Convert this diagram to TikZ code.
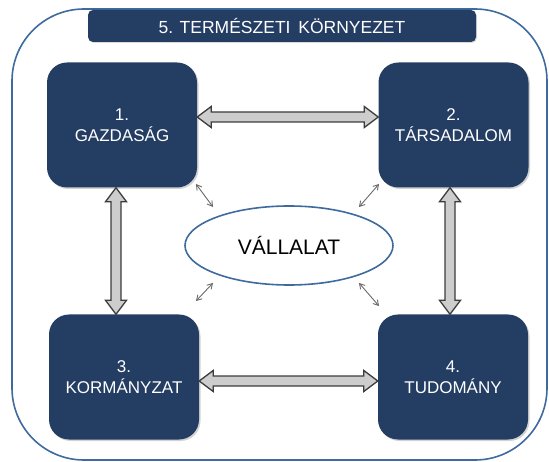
\documentclass[tikz,border=0pt]{standalone}
\usepackage{fontspec}
\setmainfont{Liberation Sans}
\usetikzlibrary{calc,shapes.geometric,shadows,arrows.meta}
\definecolor{navy}{RGB}{36,61,99}
\definecolor{frameblue}{RGB}{62,106,158}
\definecolor{arrfill}{RGB}{205,205,205}
\definecolor{arrline}{RGB}{60,60,60}
\definecolor{thinarr}{RGB}{105,105,105}
\tikzset{
  bigbox/.style={rectangle, rounded corners=20pt, fill=navy, text=white,
    minimum width=150pt, minimum height=125pt, inner sep=0pt, align=center,
    font=\fontsize{17}{21}\selectfont,
    drop shadow={opacity=0.35, shadow xshift=1.5pt, shadow yshift=-1.5pt}},
  titlebox/.style={rectangle, rounded corners=5pt, fill=navy, text=white,
    minimum width=388pt, minimum height=32pt, inner sep=0pt,
    font=\fontsize{17.5}{20}\selectfont,
    drop shadow={opacity=0.3, shadow xshift=1pt, shadow yshift=-1pt}},
  firm/.style={ellipse, draw=frameblue, line width=1.6pt, fill=white,
    minimum width=208pt, minimum height=79pt, inner sep=0pt,
    font=\fontsize{21}{24}\selectfont},
  fatarrow/.style={draw=arrline, fill=arrfill, line width=1.3pt, line join=miter},
  thinarrow/.style={draw=thinarr, line width=0.9pt, {Straight Barb[length=5pt,width=6pt]}-{Straight Barb[length=5pt,width=6pt]}}
}
\newcommand\fatarr[2]{%
  \path ($(#1)!14pt!(#2)$) coordinate (H1) ($(#2)!14pt!(#1)$) coordinate (H2);
  \draw[fatarrow] (#1) -- ($(H1)!10.5pt!90:(#2)$) -- ($(H1)!5pt!90:(#2)$)
    -- ($(H2)!5pt!-90:(#1)$) -- ($(H2)!10.5pt!-90:(#1)$) -- (#2)
    -- ($(H2)!10.5pt!90:(#1)$) -- ($(H2)!5pt!90:(#1)$)
    -- ($(H1)!5pt!-90:(#2)$) -- ($(H1)!10.5pt!-90:(#2)$) -- cycle;}
\begin{document}
\begin{tikzpicture}[x=1pt,y=-1pt]
\useasboundingbox (0,0) rectangle (549,462);
% outer frame
\draw[frameblue, line width=1.6pt, rounded corners=72pt] (12,9) rectangle (547,460);
% title
\node[titlebox] (env) at (282,26) {5. TERMÉSZETI\, KÖRNYEZET};
% boxes
\node[bigbox] (b1) at (122,125) {1.\\GAZDASÁG};
\node[bigbox] (b2) at (453.5,125) {2.\\TÁRSADALOM};
\node[bigbox] (b3) at (124,377) {3.\\KORMÁNYZAT};
\node[bigbox] (b4) at (453,377) {4.\\TUDOMÁNY};
% centre
\node[firm] (firm) at (289,245.5) {VÁLLALAT};
% fat arrows
\coordinate (h1s) at ($(b1.east)+(0,-8)$);
\coordinate (h1e) at (h1s -| b2.west);
\coordinate (h2s) at ($(b3.east)+(0,4)$);
\coordinate (h2e) at (h2s -| b4.west);
\coordinate (v1s) at ($(b1.south)+(-6,0)$);
\coordinate (v1e) at (v1s |- b3.north);
\coordinate (v2s) at ($(b2.south)+(-3.5,0)$);
\coordinate (v2e) at (v2s |- b4.north);
\fatarr{h1s}{h1e}
\fatarr{h2s}{h2e}
\fatarr{v1s}{v1e}
\fatarr{v2s}{v2e}
% thin arrows
\coordinate (t1a) at (196,184); \coordinate (t1b) at (213,207);
\coordinate (t2a) at (379,184); \coordinate (t2b) at (359,207);
\coordinate (t3a) at (196,301); \coordinate (t3b) at (213,283);
\coordinate (t4a) at (379,306); \coordinate (t4b) at (359,283);
\draw[thinarrow] (t1a) -- (t1b);
\draw[thinarrow] (t2a) -- (t2b);
\draw[thinarrow] (t3a) -- (t3b);
\draw[thinarrow] (t4a) -- (t4b);
\end{tikzpicture}
\end{document}
